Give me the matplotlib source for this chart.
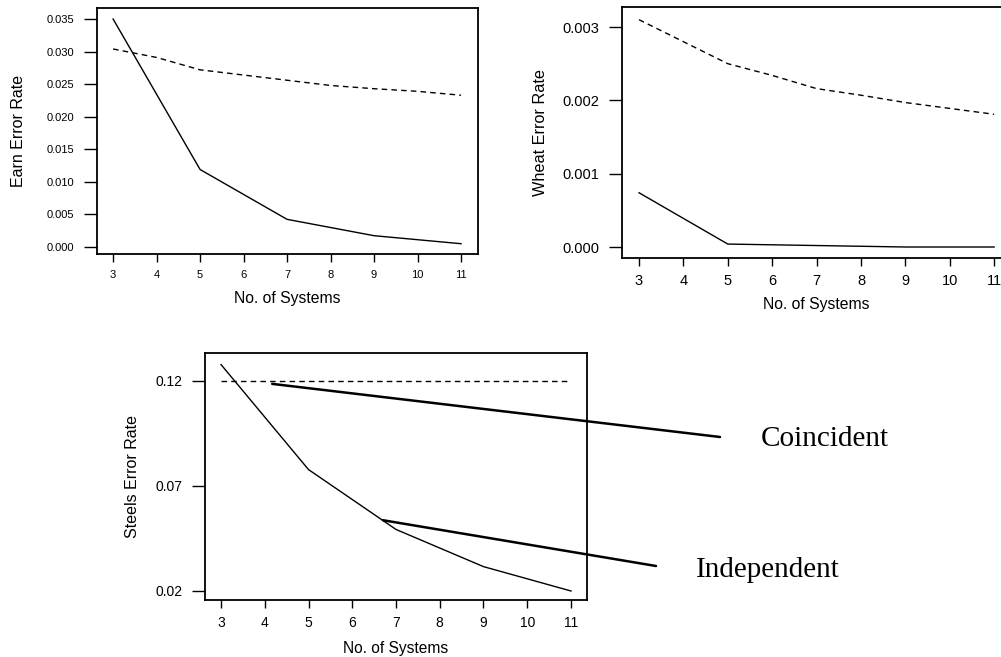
import matplotlib
matplotlib.use('Agg')
import matplotlib.pyplot as plt

plt.rcParams['font.family'] = ['Liberation Sans', 'DejaVu Sans']

systems_all = [3, 4, 5, 6, 7, 8, 9, 10, 11]
systems_odd = [3, 5, 7, 9, 11]

# Earn
earn_independent = [0.0350, 0.0119, 0.00425, 0.00174, 0.00051]
earn_coincident = [0.0304, 0.0291, 0.0272, 0.0264, 0.0256, 0.0248, 0.0243, 0.0239, 0.0233]

# Wheat
wheat_independent = [0.00074, 0.00004, 0.00002, 0.0, 0.0]
wheat_coincident = [0.00310, 0.00280, 0.00250, 0.00234, 0.00216, 0.00207, 0.00197, 0.00189, 0.00181]

# Steels
steels_independent = [0.1278, 0.0778, 0.0493, 0.0316, 0.0200]
steels_coincident = [0.12, 0.12]
steels_coincident_x = [3, 11]

W, H = 1001, 657
fig = plt.figure(figsize=(W / 100, H / 100), dpi=100)


def make_axes(left, right, top, bottom):
    return fig.add_axes([left / W, 1 - bottom / H, (right - left) / W, (bottom - top) / H])


def style(ax, tick_size):
    for s in ax.spines.values():
        s.set_linewidth(1.3)
    ax.tick_params(axis='x', direction='out', length=5.8, width=1.0, labelsize=tick_size,
                   colors='black', pad=6)
    ax.tick_params(axis='y', direction='out', length=9.4, width=1.0, labelsize=tick_size,
                   colors='black', pad=7)
    ax.set_xticks(systems_all)


ax1 = make_axes(97, 478, 8, 254)
ax1.plot(systems_odd, earn_independent, color='black', lw=1.0)
ax1.plot(systems_all, earn_coincident, color='black', lw=1.0, ls=(0, (4, 3)))
ax1.set_xlim(2.63, 11.39)
ax1.set_ylim(-0.00107, 0.03669)
ax1.set_yticks([0.000, 0.005, 0.010, 0.015, 0.020, 0.025, 0.030, 0.035])
ax1.set_yticklabels(['0.000', '0.005', '0.010', '0.015', '0.020', '0.025', '0.030', '0.035'])
style(ax1, 8)
ax1.set_xlabel('No. of Systems', fontsize=11.3, labelpad=8)
ax1.set_ylabel('Earn Error Rate', fontsize=11.5, labelpad=15)

ax2 = make_axes(622, 1011, 7, 258)
ax2.plot(systems_odd, wheat_independent, color='black', lw=1.0)
ax2.plot(systems_all, wheat_coincident, color='black', lw=1.0, ls=(0, (4, 3)))
ax2.set_xlim(2.617, 11.38)
ax2.set_ylim(-0.00015, 0.003273)
ax2.set_yticks([0.000, 0.001, 0.002, 0.003])
ax2.set_yticklabels(['0.000', '0.001', '0.002', '0.003'])
style(ax2, 10.5)
ax2.set_xlabel('No. of Systems', fontsize=11.3, labelpad=6)
ax2.set_ylabel('Wheat Error Rate', fontsize=11.7, labelpad=10)

ax3 = make_axes(205, 587, 353, 600)
ax3.plot(systems_odd, steels_independent, color='black', lw=1.0)
ax3.plot(steels_coincident_x, steels_coincident, color='black', lw=1.0, ls=(0, (4, 3)))
ax3.set_xlim(2.634, 11.366)
ax3.set_ylim(0.01571, 0.1333)
ax3.set_yticks([0.02, 0.07, 0.12])
ax3.set_yticklabels(['0.02', '0.07', '0.12'])
style(ax3, 10)
ax3.set_xlabel('No. of Systems', fontsize=11.2, labelpad=8)
ax3.set_ylabel('Steels Error Rate', fontsize=11.5, labelpad=11)

# pointer lines to the labels
ax3.annotate('', xy=(4.17, 0.1186), xycoords='data',
             xytext=(720 / W, 1 - 437 / H), textcoords='figure fraction',
             arrowprops=dict(arrowstyle='-', lw=1.8, color='black', shrinkA=0, shrinkB=0),
             annotation_clip=False)
ax3.annotate('', xy=(6.70, 0.0537), xycoords='data',
             xytext=(656 / W, 1 - 566 / H), textcoords='figure fraction',
             arrowprops=dict(arrowstyle='-', lw=1.8, color='black', shrinkA=0, shrinkB=0),
             annotation_clip=False)

fig.text(761 / W, 1 - 439 / H, 'Coincident', family=['Liberation Serif', 'DejaVu Serif'],
         fontsize=21, va='center', ha='left')
fig.text(696 / W, 1 - 570 / H, 'Independent', family=['Liberation Serif', 'DejaVu Serif'],
         fontsize=21, va='center', ha='left')

fig.savefig('out.png', dpi=100)
